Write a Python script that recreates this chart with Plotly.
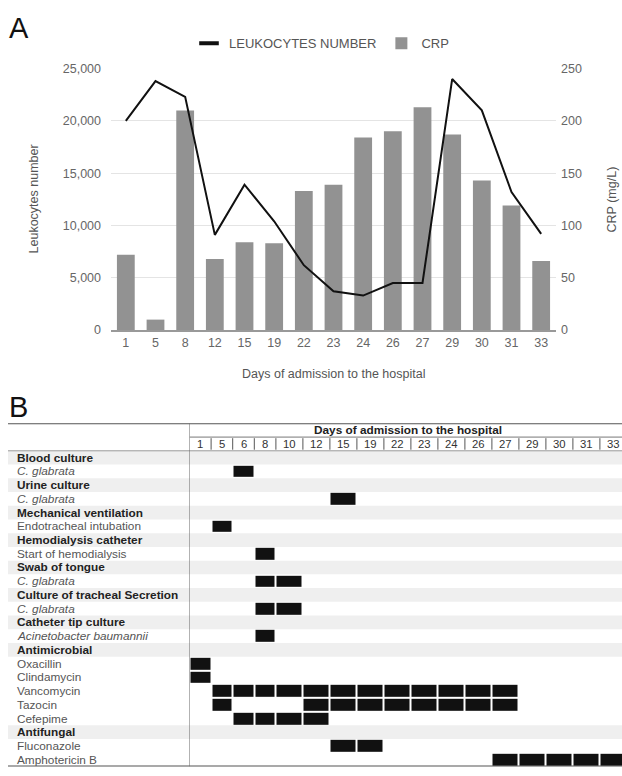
import plotly.graph_objects as go

# ---------------- Data: panel A ----------------
days = ["1", "5", "8", "12", "15", "19", "22", "23", "24", "26", "27", "29", "30", "31", "33"]
leukocytes = [20000, 23800, 22300, 9100, 13900, 10400, 6200, 3700, 3300, 4500, 4500, 24000, 21000, 13200, 9200]
crp = [72, 10, 210, 68, 84, 83, 133, 139, 184, 190, 213, 187, 143, 119, 66]
left_ticks = [0, 5000, 10000, 15000, 20000, 25000]
right_ticks = [0, 50, 100, 150, 200, 250]

# ---------------- Data: panel B ----------------
table_days = [1, 5, 6, 8, 10, 12, 15, 19, 22, 23, 24, 26, 27, 29, 30, 31, 33]
row_labels = [
    "Blood culture", "C. glabrata",
    "Urine culture", "C. glabrata",
    "Mechanical ventilation", "Endotracheal intubation",
    "Hemodialysis catheter", "Start of hemodialysis",
    "Swab of tongue", "C. glabrata",
    "Culture of tracheal Secretion", "C. glabrata",
    "Catheter tip culture", "Acinetobacter baumannii",
    "Antimicrobial", "Oxacillin", "Clindamycin", "Vancomycin", "Tazocin", "Cefepime",
    "Antifungal", "Fluconazole", "Amphotericin B",
]
row_kinds = [
    "group", "organism",
    "group", "organism",
    "group", "item",
    "group", "item",
    "group", "organism",
    "group", "organism",
    "group", "organism",
    "group", "item", "item", "item", "item", "item",
    "group", "item", "item",
]
row_days = [
    [], [6],
    [], [15],
    [], [5],
    [], [8],
    [], [8, 10],
    [], [8, 10],
    [], [8],
    [], [1], [1], [5, 6, 8, 10, 12, 15, 19, 22, 23, 24, 26, 27], [5, 12, 15, 19, 22, 23, 24, 26, 27], [6, 8, 10, 12],
    [], [15, 19], [27, 29, 30, 31, 33],
]

# ---------------- Layout helpers ----------------
W, H = 622, 776
FONT = "Liberation Sans, Arial, sans-serif"


def px_x(p):
    return p / W


def px_y(p):
    return 1 - p / H


fig = go.Figure()

# ---- Panel A traces ----
fig.add_trace(go.Bar(
    x=days, y=crp, name="CRP", marker=dict(color="#929292", line=dict(width=0)),
    xaxis="x", yaxis="y", legendrank=2, hoverinfo="skip",
))
fig.add_trace(go.Scatter(
    x=days, y=leukocytes, mode="lines", line=dict(color="#111111", width=2),
    xaxis="x", yaxis="y2", showlegend=False, hoverinfo="skip",
))
# legend entry for the leukocyte line (short thick dash like the original)
fig.add_trace(go.Scatter(
    x=[None], y=[None], mode="markers", name="LEUKOCYTES NUMBER",
    marker=dict(symbol="line-ew", size=14, line=dict(width=4, color="#111111")),
    xaxis="x", yaxis="y2", legendrank=1, hoverinfo="skip",
))

# ---- Panel B heatmap ----
col_w = [0.8 if d < 10 else 1.0 for d in table_days]
edges = [0.0]
for w in col_w:
    edges.append(edges[-1] + w)
centers = [(edges[i] + edges[i + 1]) / 2 for i in range(len(table_days))]
z = [[1 if d in rd else None for d in table_days] for rd in row_days]
rows_idx = list(range(len(row_labels)))

fig.add_trace(go.Heatmap(
    z=z, x=edges, y=rows_idx, xaxis="x3", yaxis="y3",
    colorscale=[[0, "#111111"], [1, "#111111"]], zmin=0, zmax=1,
    showscale=False, xgap=2, ygap=2, hoverinfo="skip",
))

tick_font = dict(family=FONT, size=12.5, color="#666666")
title_font = dict(family=FONT, size=12.5, color="#555555")

shapes = []
annotations = []

# panel letters
annotations.append(dict(text="A", xref="paper", yref="paper", x=px_x(7), y=px_y(21),
                        xanchor="left", yanchor="middle", showarrow=False,
                        font=dict(family=FONT, size=29, color="#111111")))
annotations.append(dict(text="B", xref="paper", yref="paper", x=px_x(7), y=px_y(407),
                        xanchor="left", yanchor="middle", showarrow=False,
                        font=dict(family=FONT, size=29, color="#111111")))

# axis titles panel A
annotations.append(dict(text="Leukocytes number", xref="paper", yref="paper", x=px_x(34), y=px_y(196),
                        textangle=-90, showarrow=False, xanchor="center", yanchor="middle", font=title_font))
annotations.append(dict(text="CRP (mg/L)", xref="paper", yref="paper", x=px_x(612), y=px_y(196),
                        textangle=-90, showarrow=False, xanchor="center", yanchor="middle", font=title_font))
annotations.append(dict(text="Days of admission to the hospital", xref="paper", yref="paper",
                        x=px_x(333), y=px_y(374), showarrow=False, xanchor="center", yanchor="middle",
                        font=title_font))

# ---- Panel B table decorations ----
TF = 11.8
HF = 11.3
n_rows = len(row_labels)
for i, (lab, kind) in enumerate(zip(row_labels, row_kinds)):
    if kind == "group":
        txt = "<b>" + lab + "</b>"
        color = "#222222"
        shapes.append(dict(type="rect", xref="paper", yref="y3", x0=px_x(8), x1=1,
                           y0=i - 0.5, y1=i + 0.5, fillcolor="#efefef", line=dict(width=0), layer="below"))
    elif kind == "organism":
        txt = "<i>" + lab + "</i>"
        color = "#555555"
    else:
        txt = lab
        color = "#555555"
    annotations.append(dict(text=txt, xref="paper", yref="y3", x=px_x(16), y=i,
                            xanchor="left", yanchor="middle", showarrow=False, borderpad=0,
                            font=dict(family=FONT, size=TF, color=color)))

# header texts
annotations.append(dict(text="<b>Days of admission to the hospital</b>", xref="x3", yref="y3",
                        x=(edges[0] + edges[-1]) / 2, y=-2.0, showarrow=False, borderpad=0,
                        xanchor="center", yanchor="middle", font=dict(family=FONT, size=HF + 0.5, color="#222222")))
for c, d in zip(centers, table_days):
    annotations.append(dict(text=str(d), xref="x3", yref="y3", x=c, y=-0.98, showarrow=False, borderpad=0,
                            xanchor="center", yanchor="middle", font=dict(family=FONT, size=HF, color="#333333")))

# lines
shapes.append(dict(type="line", xref="paper", yref="y3", x0=px_x(8), x1=1, y0=-2.5, y1=-2.5,
                   line=dict(color="#555555", width=2)))
shapes.append(dict(type="line", xref="paper", yref="y3", x0=px_x(8), x1=1, y0=n_rows - 0.5, y1=n_rows - 0.5,
                   line=dict(color="#555555", width=2)))
shapes.append(dict(type="line", xref="x3", yref="y3", x0=edges[0], x1=edges[-1], y0=-1.5, y1=-1.5,
                   line=dict(color="#777777", width=1)))
shapes.append(dict(type="line", xref="paper", yref="y3", x0=px_x(8), x1=1, y0=-0.5, y1=-0.5,
                   line=dict(color="#999999", width=1)))
shapes.append(dict(type="line", xref="x3", yref="y3", x0=edges[0], x1=edges[0], y0=-2.5, y1=n_rows - 0.5,
                   line=dict(color="#666666", width=1)))
for e in edges[1:-1]:
    shapes.append(dict(type="line", xref="x3", yref="y3", x0=e, x1=e, y0=-1.42, y1=-0.58,
                       line=dict(color="#555555", width=1)))

# the table in the original runs slightly past the right edge of the picture
visible_units = (622 - 189.5) / 27.0

fig.update_layout(
    width=W, height=H,
    margin=dict(l=0, r=0, t=0, b=0),
    paper_bgcolor="white", plot_bgcolor="rgba(0,0,0,0)",
    font=dict(family=FONT, size=12.5, color="#555555"),
    bargap=0.4,
    showlegend=True,
    legend=dict(orientation="h", x=px_x(189), xanchor="left", y=px_y(37), yanchor="middle",
                font=dict(family=FONT, size=13, color="#555555"), bgcolor="rgba(0,0,0,0)",
                traceorder="normal"),
    xaxis=dict(domain=[px_x(111), px_x(556)], anchor="y", type="category", categoryorder="array",
               categoryarray=days, ticks="", showgrid=False, zeroline=False,
               showline=True, linecolor="#999999", linewidth=1.5, tickfont=tick_font,
               fixedrange=True),
    yaxis=dict(domain=[px_y(329), px_y(62.7)], anchor="x", side="right", range=[0, 250],
               tickvals=right_ticks, showgrid=True, gridcolor="#e4e4e4", gridwidth=1,
               zeroline=False, ticks="", tickfont=tick_font, ticklabelstandoff=4, fixedrange=True),
    yaxis2=dict(overlaying="y", anchor="x", side="left", range=[0, 25000], tickvals=left_ticks,
                tickformat=",", showgrid=False, zeroline=False, ticks="", tickfont=tick_font,
                ticklabelstandoff=9, fixedrange=True),
    xaxis3=dict(domain=[px_x(189.5), 1], anchor="y3", range=[edges[0], edges[0] + visible_units],
                visible=False, fixedrange=True),
    yaxis3=dict(domain=[px_y(773.5), px_y(424)], anchor="x3", range=[n_rows - 0.5, -2.5],
                visible=False, fixedrange=True),
    shapes=shapes,
    annotations=annotations,
)

fig.write_html("out.html", config={"displayModeBar": False, "staticPlot": True},
               post_script="document.body.style.margin='0';document.body.style.overflow='hidden';")
